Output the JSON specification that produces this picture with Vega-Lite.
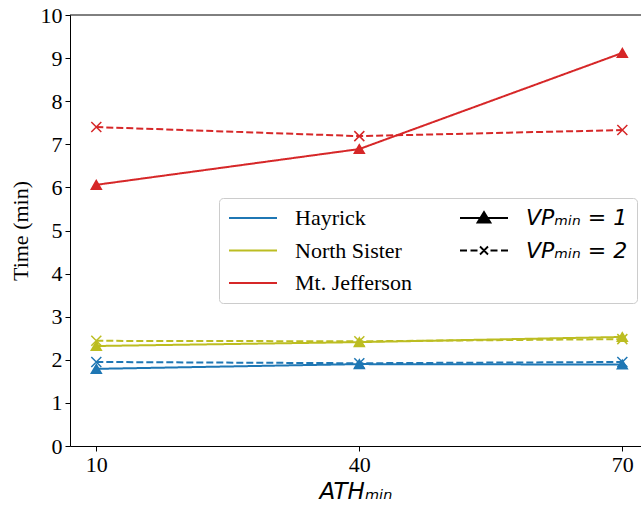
{
  "$schema": "https://vega.github.io/schema/vega-lite/v6.json",
  "width": 571,
  "height": 431,
  "autosize": {"type": "none"},
  "padding": {"left": 70, "top": 15, "right": 0, "bottom": 62},
  "background": "white",
  "config": {
    "view": {"stroke": null},
    "font": "Liberation Serif",
    "axis": {
      "labelFont": "Liberation Serif", "labelFontSize": 22, "labelColor": "black",
      "titleFont": "Liberation Serif", "titleFontSize": 22, "titleColor": "black", "titleFontWeight": "normal",
      "domainColor": "black", "tickColor": "black", "grid": false, "tickSize": 5, "domainWidth": 1, "tickWidth": 1
    }
  },
  "data": {
    "values": [
      {"mountain": "Hayrick", "vp": "1", "ath": 10, "time": 1.79},
      {"mountain": "Hayrick", "vp": "1", "ath": 40, "time": 1.90},
      {"mountain": "Hayrick", "vp": "1", "ath": 70, "time": 1.89},
      {"mountain": "Hayrick", "vp": "2", "ath": 10, "time": 1.95},
      {"mountain": "Hayrick", "vp": "2", "ath": 40, "time": 1.92},
      {"mountain": "Hayrick", "vp": "2", "ath": 70, "time": 1.95},
      {"mountain": "North Sister", "vp": "1", "ath": 10, "time": 2.32},
      {"mountain": "North Sister", "vp": "1", "ath": 40, "time": 2.41},
      {"mountain": "North Sister", "vp": "1", "ath": 70, "time": 2.53},
      {"mountain": "North Sister", "vp": "2", "ath": 10, "time": 2.44},
      {"mountain": "North Sister", "vp": "2", "ath": 40, "time": 2.43},
      {"mountain": "North Sister", "vp": "2", "ath": 70, "time": 2.48},
      {"mountain": "Mt. Jefferson", "vp": "1", "ath": 10, "time": 6.06},
      {"mountain": "Mt. Jefferson", "vp": "1", "ath": 40, "time": 6.89},
      {"mountain": "Mt. Jefferson", "vp": "1", "ath": 70, "time": 9.12},
      {"mountain": "Mt. Jefferson", "vp": "2", "ath": 10, "time": 7.40},
      {"mountain": "Mt. Jefferson", "vp": "2", "ath": 40, "time": 7.19},
      {"mountain": "Mt. Jefferson", "vp": "2", "ath": 70, "time": 7.33}
    ]
  },
  "layer": [
    {
      "data": {"values": [{}]},
      "mark": {"type": "rule", "color": "black", "strokeWidth": 1},
      "encoding": {"y": {"datum": 10, "type": "quantitative"}}
    },
    {
      "mark": {"type": "line", "strokeWidth": 2},
      "encoding": {
        "x": {
          "field": "ath", "type": "quantitative",
          "scale": {"domain": [7, 72.13], "nice": false, "zero": false},
          "axis": {"values": [10, 40, 70], "title": "ATHₘᵢₙ", "titleFont": "DejaVu Sans", "titleFontStyle": "italic", "titleFontSize": 23, "labelPadding": 3, "titlePadding": 5}
        },
        "y": {
          "field": "time", "type": "quantitative",
          "scale": {"domain": [0, 10], "nice": false},
          "axis": {"values": [0, 1, 2, 3, 4, 5, 6, 7, 8, 9, 10], "title": "Time (min)", "titlePadding": 8, "labelPadding": 3}
        },
        "color": {
          "field": "mountain", "type": "nominal",
          "scale": {
            "domain": ["Hayrick", "North Sister", "Mt. Jefferson", "VP1", "VP2"],
            "range": ["#1f77b4", "#bcbd22", "#d62728", "black", "black"]
          },
          "legend": {
            "title": null, "orient": "none", "legendX": 149, "legendY": 183,
            "columns": 2, "symbolSize": 400, "symbolStrokeWidth": 1.8,
            "labelFontSize": 22, "labelFont": "Liberation Serif", "labelColor": "black",
            "labelOffset": 45, "rowPadding": 10.5, "columnPadding": 44, "padding": 9,
            "fillColor": "rgba(255,255,255,0.8)", "strokeColor": "#cccccc", "cornerRadius": 4,
            "labelExpr": "datum.value == 'VP1' ? 'VPₘᵢₙ = 1' : datum.value == 'VP2' ? 'VPₘᵢₙ = 2' : datum.label",
            "encode": {
              "symbols": {
                "update": {
                  "shape": {"signal": "datum.value == 'VP1' ? 'M-1,0H3.8M0.75,0.45L1.4,-0.6L2.05,0.45Z' : datum.value == 'VP2' ? 'M-1,0H-0.3M0.05,0H0.75M2.05,0H2.75M3.1,0H3.8M1.0,-0.4L1.8,0.4M1.0,0.4L1.8,-0.4' : 'M-1,0H3.8'"},
                  "fill": {"signal": "datum.value == 'VP1' ? 'black' : 'transparent'"},
                  "strokeDash": {"value": []}
                }
              },
              "labels": {
                "update": {
                  "font": {"signal": "indexof(datum.value, 'VP') == 0 ? 'DejaVu Sans' : 'Liberation Serif'"},
                  "fontStyle": {"signal": "indexof(datum.value, 'VP') == 0 ? 'italic' : 'normal'"}
                }
              }
            }
          }
        },
        "strokeDash": {
          "field": "vp", "type": "nominal",
          "scale": {"domain": ["1", "2"], "range": [[1, 0], [7, 3]]},
          "legend": null
        },
        "order": {"field": "ath"}
      }
    },
    {
      "mark": {"type": "point", "filled": true, "size": 100, "strokeWidth": 1.5, "opacity": 1},
      "encoding": {
        "x": {"field": "ath", "type": "quantitative"},
        "y": {"field": "time", "type": "quantitative"},
        "shape": {
          "field": "vp", "type": "nominal",
          "scale": {"domain": ["1", "2"], "range": ["triangle-up", "M-1,-1L1,1M-1,1L1,-1"]},
          "legend": null
        },
        "fill": {
          "field": "mountain", "type": "nominal",
          "scale": {"domain": ["Hayrick", "North Sister", "Mt. Jefferson"], "range": ["#1f77b4", "#bcbd22", "#d62728"]},
          "legend": null
        },
        "stroke": {
          "field": "mountain", "type": "nominal",
          "scale": {"domain": ["Hayrick", "North Sister", "Mt. Jefferson"], "range": ["#1f77b4", "#bcbd22", "#d62728"]},
          "legend": null
        }
      }
    }
  ]
}
